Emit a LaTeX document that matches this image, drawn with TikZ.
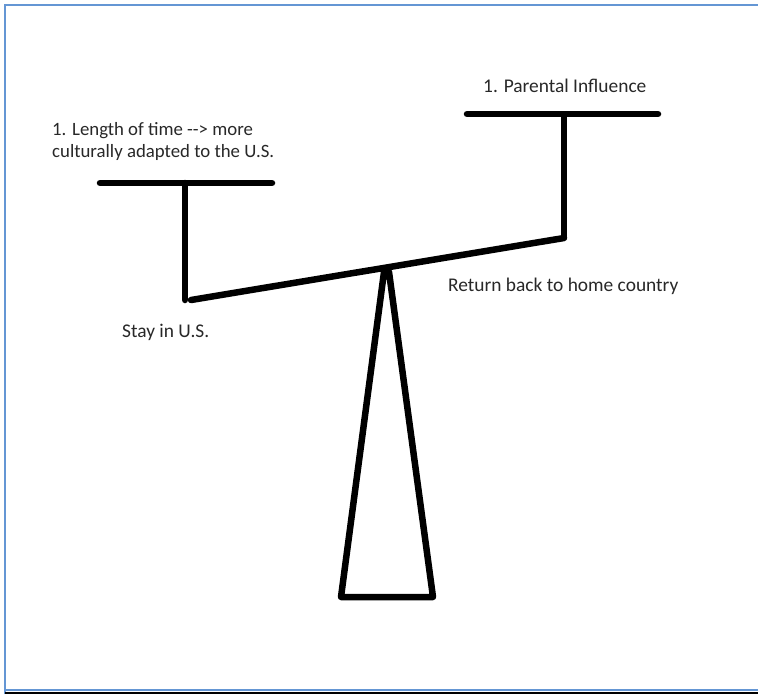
\documentclass[tikz,border=0pt]{standalone}
\usepackage{fontspec}
\setmainfont{Carlito}
\definecolor{frameblue}{RGB}{100,150,212}
\definecolor{textgrey}{RGB}{40,40,40}
\tikzset{
  bar/.style={line width=6.5pt, line cap=round, black},
  lbl/.style={font=\fontsize{19.4}{22}\selectfont, text=textgrey, inner sep=0pt, anchor=base west, align=left},
  lblsmall/.style={lbl, font=\fontsize{18.8}{22}\selectfont},
  frame/.style={frameblue, line width=2pt}
}
\begin{document}
\begin{tikzpicture}[x=1pt,y=-1pt]
\useasboundingbox (0,0) rectangle (758,694);
\fill[white] (0,0) rectangle (758,694);
% frame
\draw[frame] (5,694) -- (5,5) -- (758,5);
\draw[frame] (5,690) -- (758,690);
\draw[black, line width=2.5pt] (5,693) -- (758,693);
% coordinates
\coordinate (lbarL) at (100,183);
\coordinate (lbarR) at (272,183);
\coordinate (lpostT) at (185,183);
\coordinate (lpostB) at (185,300);
\coordinate (beamL) at (191,300);
\coordinate (beamR) at (564,238);
\coordinate (rpostB) at (564,238);
\coordinate (rpostT) at (564,114);
\coordinate (rbarL) at (467,114);
\coordinate (rbarR) at (658,114);
\coordinate (apexL) at (384,272);
\coordinate (apexR) at (389,272);
\coordinate (baseL) at (341,597);
\coordinate (baseR) at (433,597);
% shapes
\draw[bar] (lbarL) -- (lbarR);
\draw[bar] (lpostT) -- (lpostB);
\draw[bar] (beamL) -- (beamR);
\draw[bar, line cap=butt] (rpostB) -- (rpostT);
\draw[bar] (rbarL) -- (rbarR);
\draw[bar, line join=round] (apexL) -- (baseL) -- (baseR) -- (apexR) -- cycle;
% labels
\node[lblsmall] (lenA) at (52,135) {1. Length of time {-}{-}> more};
\node[lblsmall] (lenB) at (52,157) {culturally adapted to the U.S.};
\node[lbl] (par) at (483,92) {1. Parental Influence};
\node[lbl] (ret) at (448,291) {Return back to home country};
\node[lbl] (stay) at (122,337) {Stay in U.S.};
\end{tikzpicture}
\end{document}
